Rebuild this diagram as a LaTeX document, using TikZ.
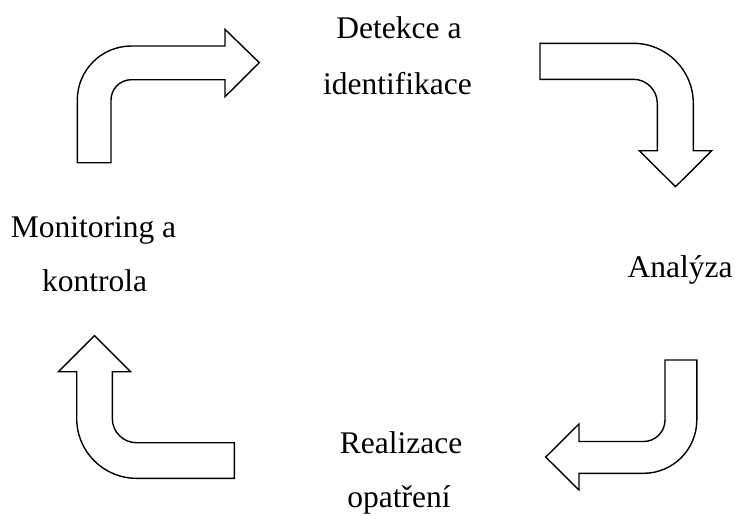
\documentclass[tikz,border=0pt]{standalone}
\usepackage{fontspec}
\setmainfont{Liberation Serif}
\begin{document}
\begin{tikzpicture}[x=1pt,y=1pt,
  bigarrow/.style={draw=black,line width=1.4pt,fill=white,line join=miter},
  lbl/.style={anchor=base,inner sep=0pt,font=\fontsize{31.5}{38}\selectfont}]
\useasboundingbox (0,0) rectangle (735,-515);
% top-left arrow (up then right)
\draw[bigarrow] (77.3,-162.7) -- (77.3,-100) arc[start angle=180,end angle=90,radius=54]
  -- (225,-46) -- (225,-29.3) -- (259.3,-62.7) -- (225,-96.7) -- (225,-79.7)
  -- (131.3,-79.7) arc[start angle=90,end angle=180,radius=20.3]
  -- (111,-162.7) -- cycle;
% top-right arrow (right then down)
\draw[bigarrow] (540,-43.3) -- (633.3,-43.3) arc[start angle=90,end angle=0,radius=60]
  -- (693.3,-150.7) -- (711.7,-150.7) -- (675.5,-186.7) -- (639.3,-150.7) -- (657.3,-150.7)
  -- (657.3,-103.3) arc[start angle=0,end angle=90,radius=24]
  -- (540,-79.3) -- cycle;
% bottom-right arrow (down then left)
\draw[bigarrow] (665,-360) -- (696.8,-360) -- (696.8,-420) arc[start angle=0,end angle=-90,radius=53.3]
  -- (579,-473.3) -- (579,-490) -- (545.7,-457) -- (579,-424) -- (579,-441.5)
  -- (643.5,-441.5) arc[start angle=-90,end angle=0,radius=21.5]
  -- cycle;
% bottom-left arrow (left then up)
\draw[bigarrow] (94.5,-335.7) -- (130.5,-371.7) -- (112.3,-371.7)
  -- (112.3,-418.5) arc[start angle=180,end angle=270,radius=24.2]
  -- (234.3,-442.7) -- (234.3,-478.3)
  -- (136.5,-478.3) arc[start angle=270,end angle=180,radius=59.8]
  -- (76.7,-371.7) -- (58.5,-371.7) -- cycle;
% labels
\node[lbl] (det1) at (399,-38.3) {Detekce a};
\node[lbl] (det2) at (397.5,-94.3) {identifikace};
\node[lbl] (ana) at (680,-277) {Analýza};
\node[lbl] (rea1) at (401,-453) {Realizace};
\node[lbl] (rea2) at (399,-507) {opatření};
\node[lbl] (mon1) at (93.5,-237) {Monitoring a};
\node[lbl] (mon2) at (94.5,-291) {kontrola};
\end{tikzpicture}
\end{document}
